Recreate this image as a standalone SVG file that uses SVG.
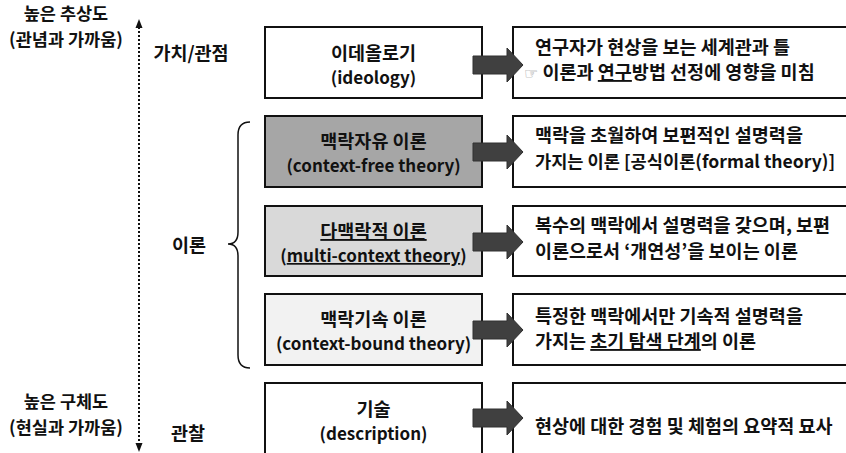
<svg xmlns="http://www.w3.org/2000/svg" width="846" height="453" viewBox="0 0 846 453">
<style>
text{font-family:"Noto Sans CJK KR","Malgun Gothic",sans-serif;font-weight:700;font-size:18.5px;fill:#111}
.c{text-anchor:middle}
.lat{font-size:17px}
.mix{font-size:17.6px}
.ax{font-size:17.5px}
.box{stroke:#111;stroke-width:2}
.arr{fill:#404040;stroke:#303030;stroke-width:1}
.u{text-decoration:underline}
.hand{fill:#8a8a8a;font-size:16px;font-family:"DejaVu Sans",sans-serif;font-weight:400}
</style>
<rect width="846" height="453" fill="#fff"/>
<g id="axis">
<line x1="139" y1="27" x2="139" y2="446" stroke="#111" stroke-width="2" stroke-dasharray="2 2"/>
<polygon points="139,19 135.5,28 142.5,28" fill="#111"/>
<polygon points="139,452 135.5,443 142.5,443" fill="#111"/>
<text class="c ax" x="66" y="20">높은 추상도</text>
<text class="c ax" x="66" y="46">(관념과 가까움)</text>
<text class="c ax" x="66" y="408">높은 구체도</text>
<text class="c ax" x="66" y="434">(현실과 가까움)</text>
</g>
<g id="labels">
<text class="c" x="191" y="60">가치/관점</text>
<text class="c" x="189" y="252">이론</text>
<text class="c" x="188" y="440">관찰</text>
<path d="M250,122 Q238,122 238,135 L238,232 Q238,244 228,244 Q238,244 238,256 L238,355 Q238,368 250,368" fill="none" stroke="#111" stroke-width="1.5"/>
</g>
<g id="ideology">
<rect class="box" x="265" y="27" width="217" height="71" fill="#fff"/>
<text class="c" x="373.5" y="60">이데올로기</text>
<text class="c lat" x="373.5" y="84">(ideology)</text>
</g>
<g id="ideology-desc">
<rect class="box" x="513" y="27" width="345" height="71" fill="#fff"/>
<text x="535" y="54">연구자가 현상을 보는 세계관과 틀</text>
<text x="524" y="79"><tspan class="hand">☞</tspan> 이론과 <tspan class="u">연구</tspan>방법 선정에 영향을 미침</text>
</g>
<g id="context-free">
<rect class="box" x="265" y="116" width="217" height="71" fill="#a6a6a6"/>
<text class="c" x="373.5" y="148">맥락자유 이론</text>
<text class="c lat" x="373.5" y="172">(context-free theory)</text>
</g>
<g id="context-free-desc">
<rect class="box" x="513" y="116" width="345" height="71" fill="#fff"/>
<text x="535" y="142">맥락을 초월하여 보편적인 설명력을</text>
<text class="mix" x="535" y="168">가지는 이론 [공식이론(formal theory)]</text>
</g>
<g id="multi-context">
<rect class="box" x="265" y="206" width="217" height="70" fill="#d9d9d9"/>
<text class="c u" x="373.5" y="238">다맥락적 이론</text>
<text class="c lat" x="373.5" y="262">(<tspan class="u">multi-context theory</tspan>)</text>
</g>
<g id="multi-context-desc">
<rect class="box" x="513" y="206" width="345" height="70" fill="#fff"/>
<text x="535" y="232">복수의 맥락에서 설명력을 갖으며, 보편</text>
<text x="535" y="258">이론으로서 ‘개연성’을 보이는 이론</text>
</g>
<g id="context-bound">
<rect class="box" x="265" y="294" width="217" height="71" fill="#f2f2f2"/>
<text class="c" x="373.5" y="326">맥락기속 이론</text>
<text class="c lat" x="373.5" y="350">(context-bound theory)</text>
</g>
<g id="context-bound-desc">
<rect class="box" x="513" y="294" width="345" height="71" fill="#fff"/>
<text x="535" y="323">특정한 맥락에서만 기속적 설명력을</text>
<text x="535" y="348">가지는 <tspan class="u">초기 탐색 단계</tspan>의 이론</text>
</g>
<g id="description">
<rect class="box" x="265" y="383" width="217" height="76" fill="#fff"/>
<text class="c" x="373.5" y="416">기술</text>
<text class="c lat" x="373.5" y="440">(description)</text>
</g>
<g id="description-desc">
<rect class="box" x="513" y="383" width="345" height="76" fill="#fff"/>
<text x="535" y="433">현상에 대한 경험 및 체험의 요약적 묘사</text>
</g>
<g id="connectors">
<polygon class="arr" points="473,56 507,56 507,48 523,65 507,82 507,74 473,74"/>
<polygon class="arr" points="473,143 507,143 507,135 523,152 507,169 507,161 473,161"/>
<polygon class="arr" points="473,233 507,233 507,225 523,242 507,259 507,251 473,251"/>
<polygon class="arr" points="473,321 507,321 507,313 523,330 507,347 507,339 473,339"/>
<polygon class="arr" points="473,409 507,409 507,401 523,418 507,435 507,427 473,427"/>
</g>
</svg>
